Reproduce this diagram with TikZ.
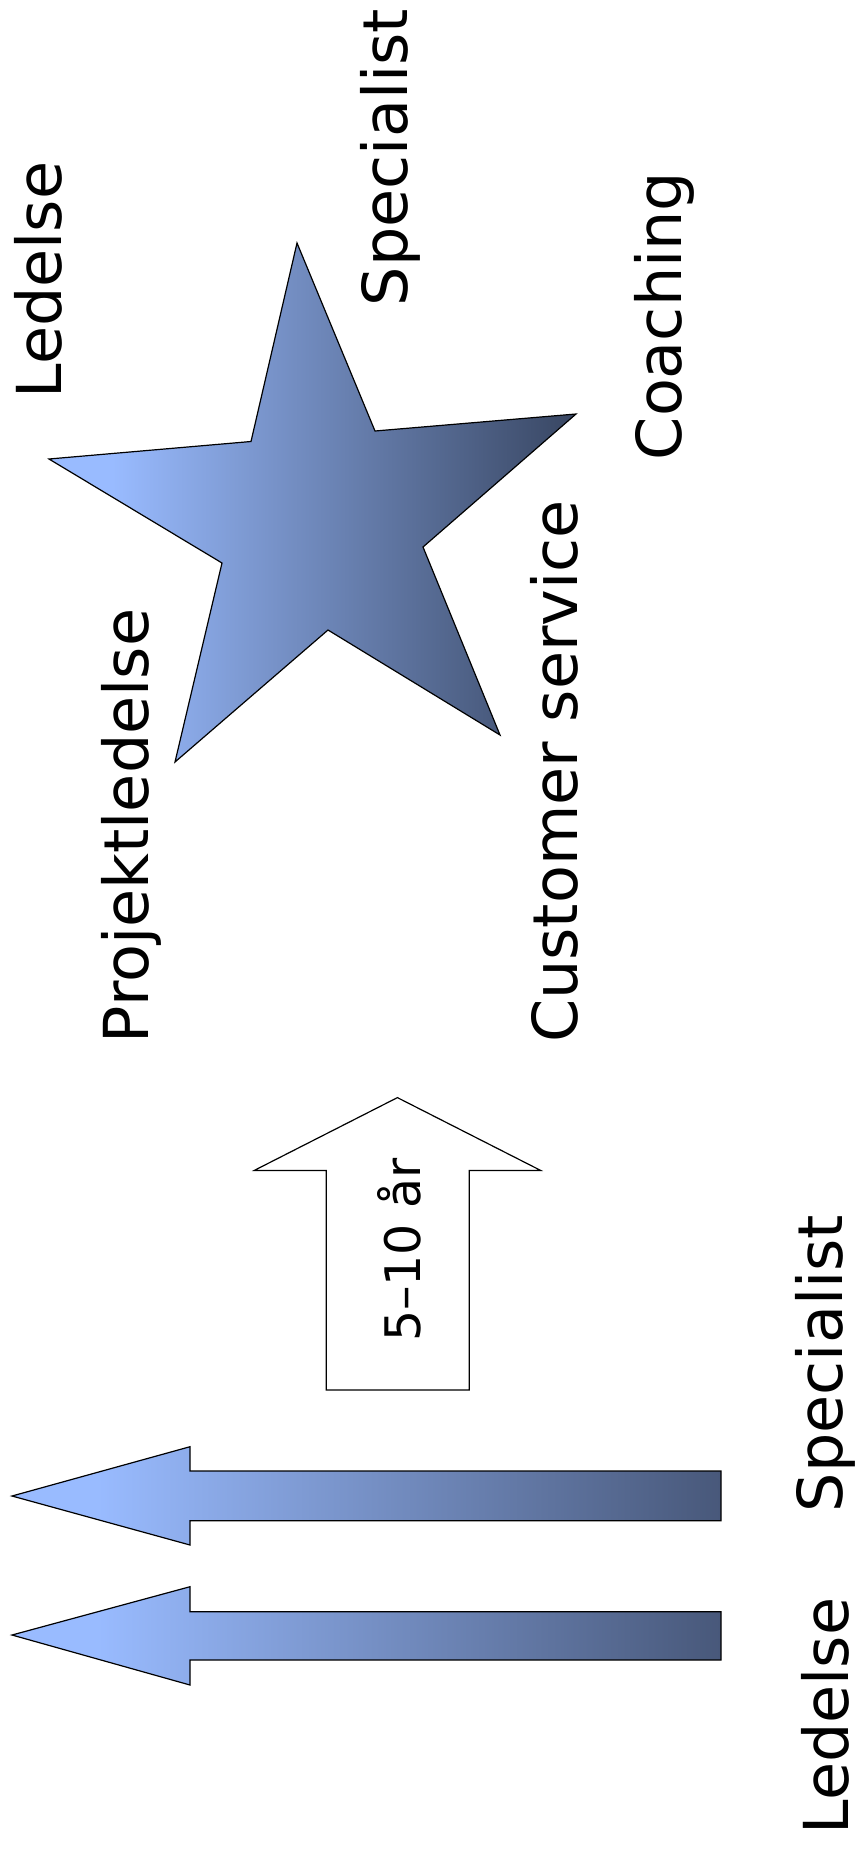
\documentclass[tikz,border=0pt]{standalone}
\usepackage{fontspec}
\setmainfont{DejaVu Sans}
\definecolor{lightb}{RGB}{153,187,255}
\definecolor{stardark}{RGB}{56,70,98}
\definecolor{arrdark}{RGB}{72,88,122}
\pgfdeclarehorizontalshading{starshade}{100bp}{color(0bp)=(lightb); color(31bp)=(lightb); color(75bp)=(stardark); color(100bp)=(stardark)}
\pgfdeclarehorizontalshading{arrshade}{100bp}{color(0bp)=(lightb); color(31bp)=(lightb); color(75bp)=(arrdark); color(100bp)=(arrdark)}
\begin{document}
\begin{tikzpicture}[x=1pt,y=-1pt,
  lbl/.style={rotate=90, font=\fontsize{62}{70}\selectfont, inner sep=0pt},
  small/.style={rotate=90, font=\fontsize{49}{56}\selectfont, inner sep=0pt},
  stargrad/.style={draw=black, line width=1.2pt, shade, shading=starshade, line join=miter},
  arrgrad/.style={draw=black, line width=1.2pt, shade, shading=arrshade, line join=miter},
  plain/.style={draw=black, line width=1.2pt, fill=white, line join=miter}]
\useasboundingbox (0,0) rectangle (860,1849);
% star
\draw[stargrad] (297,243) -- (251,441.5) -- (49,459) -- (222,563) -- (175,762) -- (328,630) -- (500,735) -- (423,547) -- (576,414) -- (375,431) -- cycle;
% up arrow
\draw[plain] (397.4,1097.6) -- (540.6,1170.4) -- (469.2,1170.4) -- (469.2,1390) -- (326.3,1390) -- (326.3,1170.4) -- (254.3,1170.4) -- cycle;
% left arrows
\draw[arrgrad] (12,1496) -- (190,1446.7) -- (190,1471) -- (721,1471) -- (721,1520.7) -- (190,1520.7) -- (190,1545) -- cycle;
\draw[arrgrad] (12,1635) -- (190,1586.7) -- (190,1611.7) -- (721,1611.7) -- (721,1660) -- (190,1660) -- (190,1685) -- cycle;
% labels
\node[lbl] (ledT) at (38.5,280) {Ledelse};
\node[lbl] (specT) at (390,157.5) {Specialist};
\node[lbl] (coach) at (664,316) {Coaching};
\node[lbl] (proj) at (131.5,826) {Projektledelse};
\node[lbl] (cust) at (554.5,771.5) {Customer service};
\node[lbl] (specB) at (825.5,1363.5) {Specialist};
\node[lbl] (ledB) at (825.5,1716) {Ledelse};
\node[small] (yrs) at (399.5,1250) {5–10 år};
\end{tikzpicture}
\end{document}
